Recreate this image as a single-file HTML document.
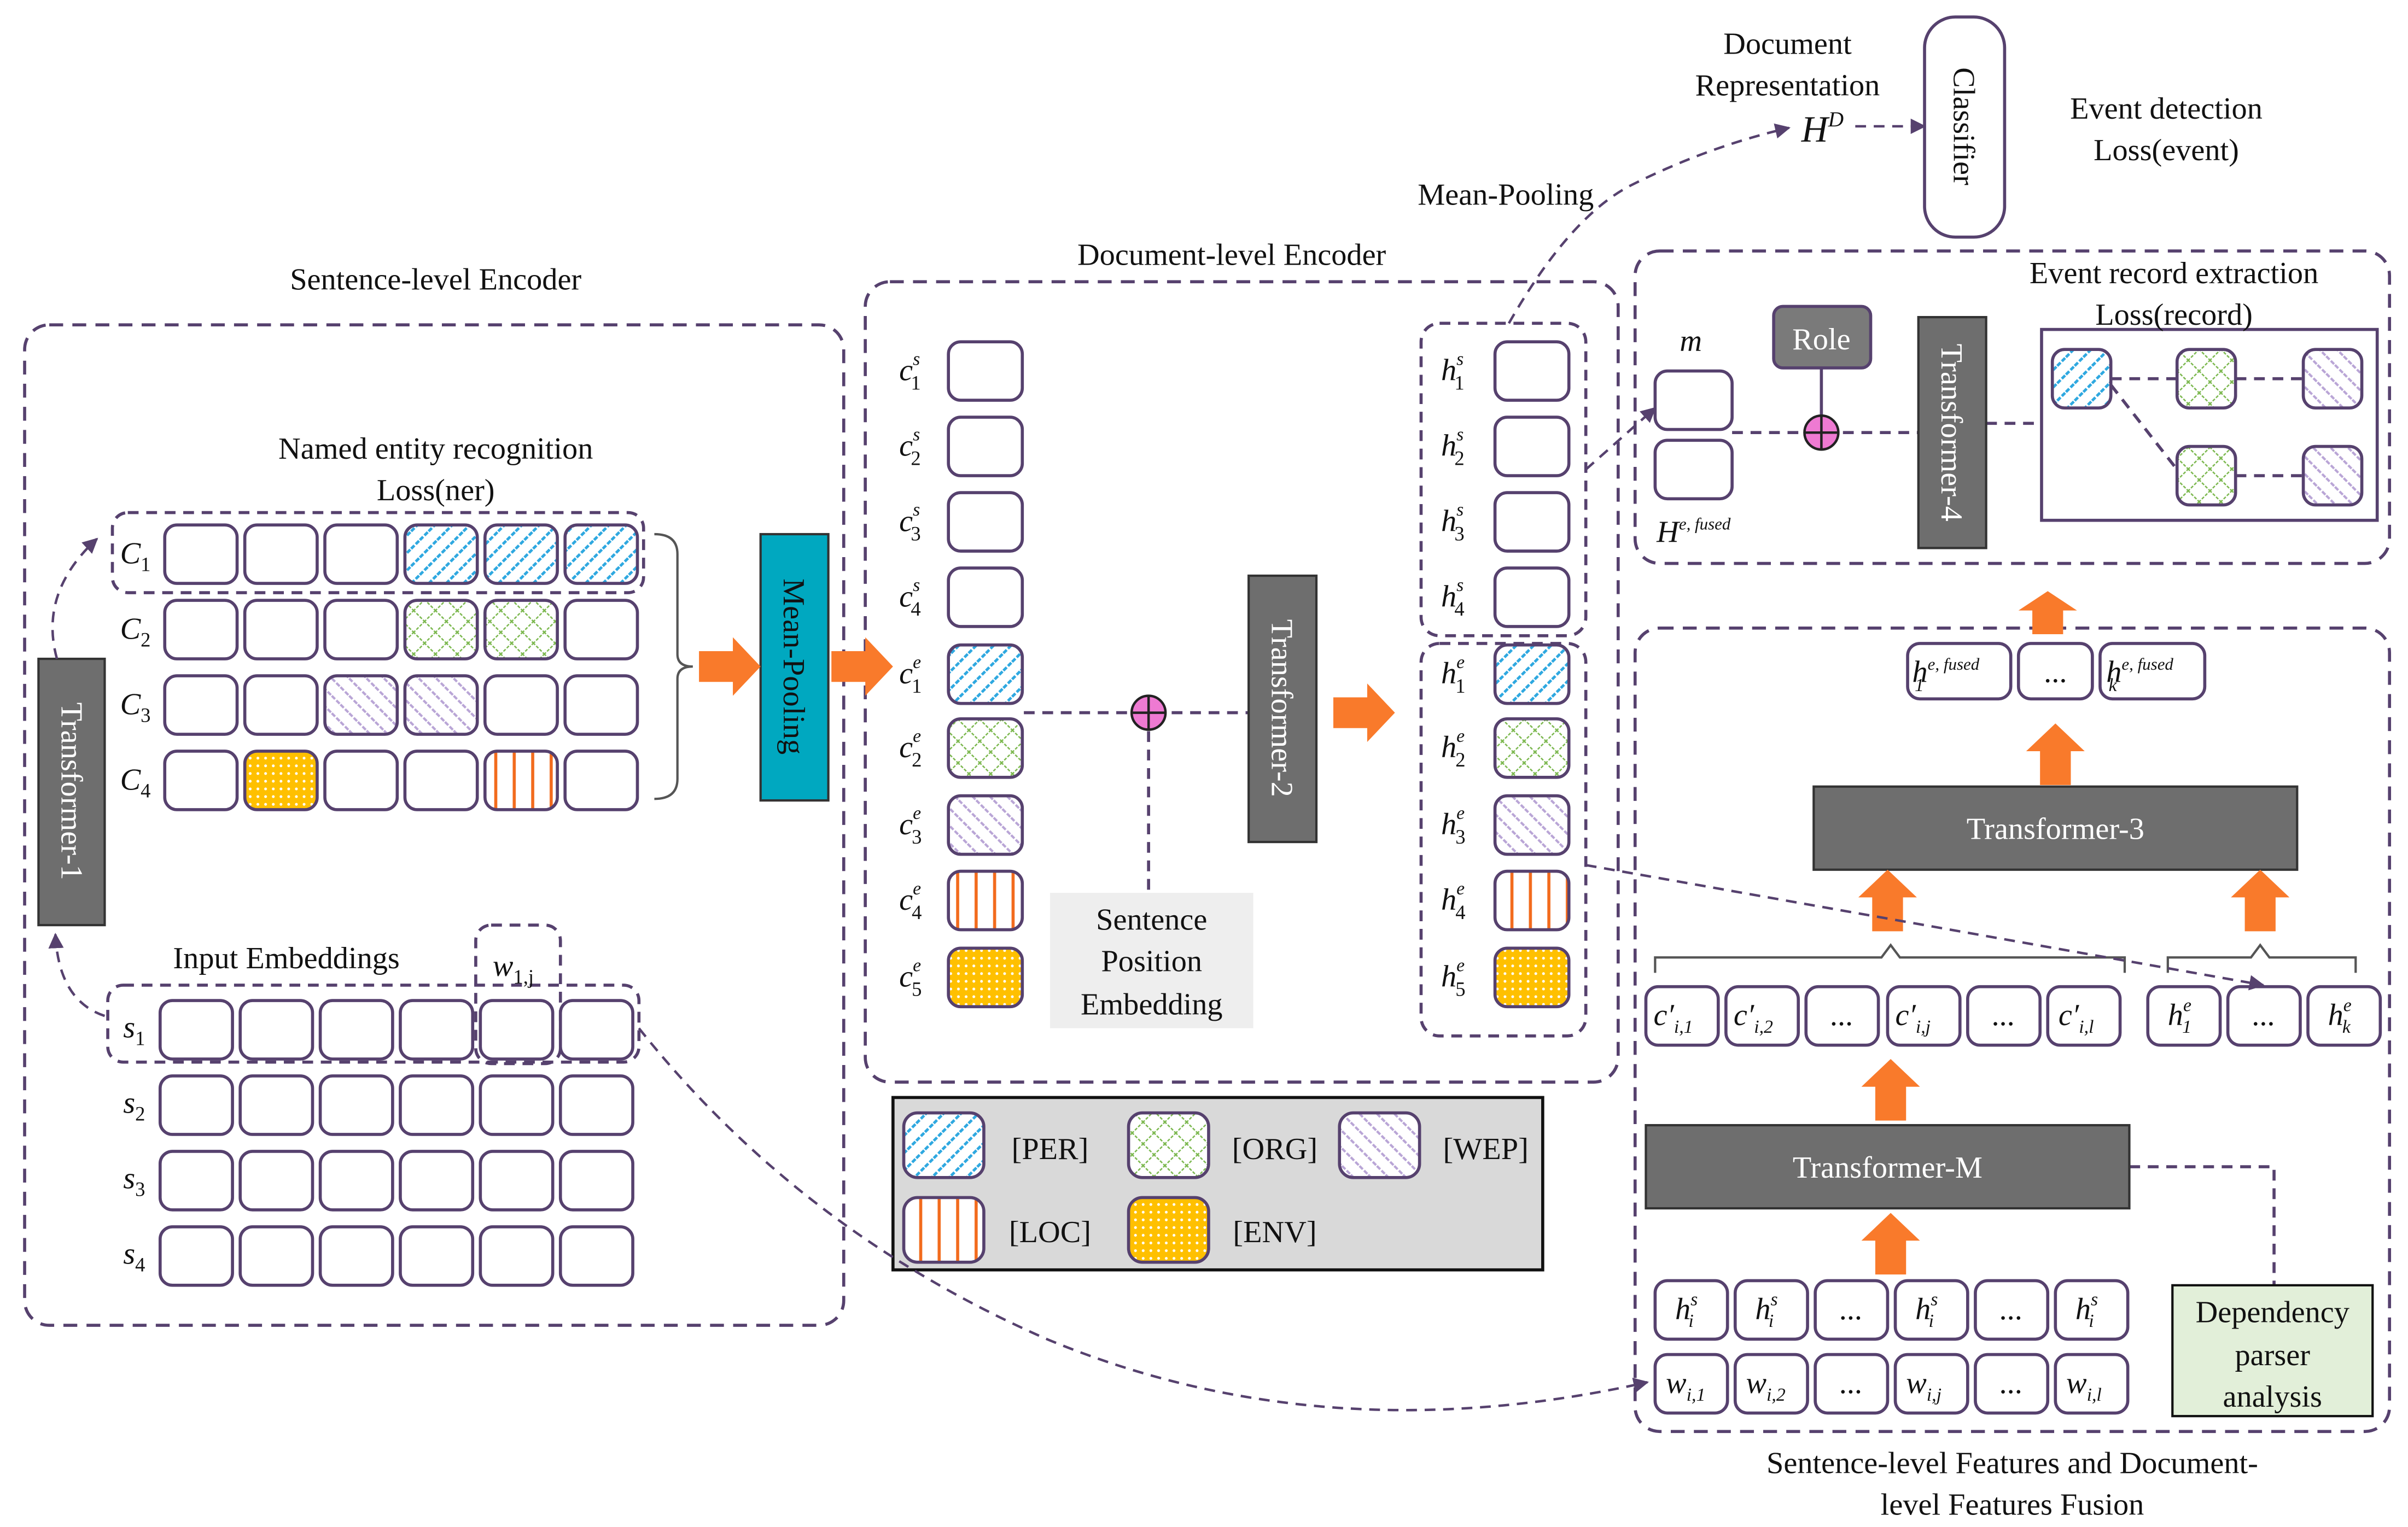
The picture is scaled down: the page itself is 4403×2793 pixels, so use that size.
<!DOCTYPE html>
<html><head><meta charset="utf-8"><style>
html,body{margin:0;padding:0;background:#fff;}
svg{display:block;}
text{font-family:"Liberation Serif",serif;fill:#111;}
.it{font-style:italic;}
</style></head><body>
<svg width="4403" height="2793" viewBox="0 0 1564 992" xmlns="http://www.w3.org/2000/svg">
<defs>
<pattern id="per" width="8" height="8" patternUnits="userSpaceOnUse" patternTransform="rotate(45)"><rect width="8" height="8" fill="#fff"/><line x1="0" y1="0" x2="0" y2="8" stroke="#2ea8e0" stroke-width="3.5" stroke-dasharray="3 1.2"/></pattern>
<pattern id="wep" width="8" height="8" patternUnits="userSpaceOnUse" patternTransform="rotate(-45)"><rect width="8" height="8" fill="#fff"/><line x1="0" y1="0" x2="0" y2="8" stroke="#b9a5d6" stroke-width="3" stroke-dasharray="3 1.2"/></pattern>
<pattern id="org" width="10" height="10" patternUnits="userSpaceOnUse" patternTransform="rotate(45)"><rect width="10" height="10" fill="#fff"/><line x1="0" y1="0" x2="0" y2="10" stroke="#7cb84f" stroke-width="1.8" stroke-dasharray="2 1"/><line x1="0" y1="0" x2="10" y2="0" stroke="#7cb84f" stroke-width="1.8" stroke-dasharray="2 1"/></pattern>
<pattern id="loc" width="12" height="12" patternUnits="userSpaceOnUse" x="4"><rect width="12" height="12" fill="#fff"/><line x1="6" y1="0" x2="6" y2="12" stroke="#f26b1d" stroke-width="2"/></pattern>
<pattern id="env" width="5" height="5" patternUnits="userSpaceOnUse"><rect width="5" height="5" fill="#ffc000"/><circle cx="2.5" cy="2.5" r="0.9" fill="#fff"/></pattern>
<path id="oa" d="M0,-10 L22,-10 L22,-19 L40,0 L22,19 L22,10 L0,10 Z" fill="#f97a2b"/>
<marker id="ah" markerWidth="10" markerHeight="10" refX="9" refY="5" orient="auto" markerUnits="userSpaceOnUse"><path d="M0,0 L10,5 L0,10 Z" fill="#56416e"/></marker>
</defs>
<g fill="none" stroke="#56416e" stroke-width="2">
<rect x="16" y="211" width="532" height="650" rx="16" stroke-dasharray="9 6"/>
<rect x="562" y="183" width="489" height="520" rx="16" stroke-dasharray="9 6"/>
<rect x="1062" y="163" width="490" height="203" rx="16" stroke-dasharray="9 6"/>
<rect x="1062" y="408" width="490" height="522" rx="16" stroke-dasharray="9 6"/>
<rect x="73" y="333" width="345" height="52" rx="10" stroke-dasharray="7 5"/>
<rect x="70" y="640" width="345" height="50" rx="10" stroke-dasharray="7 5"/>
<rect x="309" y="601" width="55" height="90" rx="10" stroke-dasharray="7 5"/>
<rect x="923" y="210" width="107" height="203" rx="12" stroke-dasharray="7 5"/>
<rect x="923" y="418" width="107" height="255" rx="12" stroke-dasharray="7 5"/>
</g>
<g stroke="#56416e" stroke-width="2">
<g fill="#fff">
<rect x="107" y="341" width="47" height="38" rx="8"/><rect x="159" y="341" width="47" height="38" rx="8"/><rect x="211" y="341" width="47" height="38" rx="8"/>
<rect x="263" y="341" width="47" height="38" rx="8" fill="url(#per)"/><rect x="315" y="341" width="47" height="38" rx="8" fill="url(#per)"/><rect x="367" y="341" width="47" height="38" rx="8" fill="url(#per)"/>
<rect x="107" y="390" width="47" height="38" rx="8"/><rect x="159" y="390" width="47" height="38" rx="8"/><rect x="211" y="390" width="47" height="38" rx="8"/>
<rect x="263" y="390" width="47" height="38" rx="8" fill="url(#org)"/><rect x="315" y="390" width="47" height="38" rx="8" fill="url(#org)"/><rect x="367" y="390" width="47" height="38" rx="8"/>
<rect x="107" y="439" width="47" height="38" rx="8"/><rect x="159" y="439" width="47" height="38" rx="8"/><rect x="211" y="439" width="47" height="38" rx="8" fill="url(#wep)"/>
<rect x="263" y="439" width="47" height="38" rx="8" fill="url(#wep)"/><rect x="315" y="439" width="47" height="38" rx="8"/><rect x="367" y="439" width="47" height="38" rx="8"/>
<rect x="107" y="488" width="47" height="38" rx="8"/><rect x="159" y="488" width="47" height="38" rx="8" fill="url(#env)"/><rect x="211" y="488" width="47" height="38" rx="8"/>
<rect x="263" y="488" width="47" height="38" rx="8"/><rect x="315" y="488" width="47" height="38" rx="8" fill="url(#loc)"/><rect x="367" y="488" width="47" height="38" rx="8"/>
<rect x="104" y="650" width="47" height="38" rx="8"/><rect x="156" y="650" width="47" height="38" rx="8"/><rect x="208" y="650" width="47" height="38" rx="8"/><rect x="260" y="650" width="47" height="38" rx="8"/><rect x="312" y="650" width="47" height="38" rx="8"/><rect x="364" y="650" width="47" height="38" rx="8"/>
<rect x="104" y="699" width="47" height="38" rx="8"/><rect x="156" y="699" width="47" height="38" rx="8"/><rect x="208" y="699" width="47" height="38" rx="8"/><rect x="260" y="699" width="47" height="38" rx="8"/><rect x="312" y="699" width="47" height="38" rx="8"/><rect x="364" y="699" width="47" height="38" rx="8"/>
<rect x="104" y="748" width="47" height="38" rx="8"/><rect x="156" y="748" width="47" height="38" rx="8"/><rect x="208" y="748" width="47" height="38" rx="8"/><rect x="260" y="748" width="47" height="38" rx="8"/><rect x="312" y="748" width="47" height="38" rx="8"/><rect x="364" y="748" width="47" height="38" rx="8"/>
<rect x="104" y="797" width="47" height="38" rx="8"/><rect x="156" y="797" width="47" height="38" rx="8"/><rect x="208" y="797" width="47" height="38" rx="8"/><rect x="260" y="797" width="47" height="38" rx="8"/><rect x="312" y="797" width="47" height="38" rx="8"/><rect x="364" y="797" width="47" height="38" rx="8"/>
<rect x="616" y="222" width="48" height="38" rx="8"/><rect x="616" y="271" width="48" height="38" rx="8"/><rect x="616" y="320" width="48" height="38" rx="8"/><rect x="616" y="369" width="48" height="38" rx="8"/>
<rect x="616" y="419" width="48" height="38" rx="8" fill="url(#per)"/><rect x="616" y="467" width="48" height="38" rx="8" fill="url(#org)"/><rect x="616" y="517" width="48" height="38" rx="8" fill="url(#wep)"/><rect x="616" y="566" width="48" height="38" rx="8" fill="url(#loc)"/><rect x="616" y="616" width="48" height="38" rx="8" fill="url(#env)"/>
<rect x="971" y="222" width="48" height="38" rx="8"/><rect x="971" y="271" width="48" height="38" rx="8"/><rect x="971" y="320" width="48" height="38" rx="8"/><rect x="971" y="369" width="48" height="38" rx="8"/>
<rect x="971" y="419" width="48" height="38" rx="8" fill="url(#per)"/><rect x="971" y="467" width="48" height="38" rx="8" fill="url(#org)"/><rect x="971" y="517" width="48" height="38" rx="8" fill="url(#wep)"/><rect x="971" y="566" width="48" height="38" rx="8" fill="url(#loc)"/><rect x="971" y="616" width="48" height="38" rx="8" fill="url(#env)"/>
<rect x="1075" y="241" width="50" height="38" rx="8"/><rect x="1075" y="286" width="50" height="38" rx="8"/>
<rect x="1239" y="418" width="67" height="36" rx="8"/><rect x="1311" y="418" width="48" height="36" rx="8"/><rect x="1364" y="418" width="68" height="36" rx="8"/>
<rect x="1069" y="641" width="47" height="38" rx="8"/><rect x="1121" y="641" width="47" height="38" rx="8"/><rect x="1173" y="641" width="47" height="38" rx="8"/><rect x="1226" y="641" width="47" height="38" rx="8"/><rect x="1278" y="641" width="47" height="38" rx="8"/><rect x="1330" y="641" width="47" height="38" rx="8"/>
<rect x="1395" y="641" width="47" height="38" rx="8"/><rect x="1447" y="641" width="47" height="38" rx="8"/><rect x="1499" y="641" width="47" height="38" rx="8"/>
<rect x="1075" y="832" width="47" height="38" rx="8"/><rect x="1127" y="832" width="47" height="38" rx="8"/><rect x="1179" y="832" width="47" height="38" rx="8"/><rect x="1231" y="832" width="47" height="38" rx="8"/><rect x="1283" y="832" width="47" height="38" rx="8"/><rect x="1335" y="832" width="47" height="38" rx="8"/>
<rect x="1075" y="880" width="47" height="38" rx="8"/><rect x="1127" y="880" width="47" height="38" rx="8"/><rect x="1179" y="880" width="47" height="38" rx="8"/><rect x="1231" y="880" width="47" height="38" rx="8"/><rect x="1283" y="880" width="47" height="38" rx="8"/><rect x="1335" y="880" width="47" height="38" rx="8"/>
</g>
<rect x="1326" y="214" width="218" height="124" fill="none"/>
<g stroke-dasharray="7 5" fill="none">
<line x1="1371" y1="246" x2="1414" y2="246"/><line x1="1452" y1="246" x2="1496" y2="246"/><line x1="1371" y1="250" x2="1414" y2="305"/><line x1="1452" y1="309" x2="1496" y2="309"/>
<line x1="1125" y1="281" x2="1246" y2="281"/><line x1="1290" y1="275" x2="1326" y2="275"/>
<line x1="665" y1="463" x2="811" y2="463"/><line x1="746" y1="475" x2="746" y2="580"/>
<polyline points="1383,758 1477,758 1477,835"/>
</g>
<g fill="#fff">
<rect x="1333" y="227" width="38" height="38" rx="8" fill="url(#per)"/><rect x="1414" y="227" width="38" height="38" rx="8" fill="url(#org)"/><rect x="1496" y="227" width="38" height="38" rx="8" fill="url(#wep)"/>
<rect x="1414" y="290" width="38" height="38" rx="8" fill="url(#org)"/><rect x="1496" y="290" width="38" height="38" rx="8" fill="url(#wep)"/>
</g>
<line x1="1183" y1="239" x2="1183" y2="270"/>
</g>
<g stroke="#222" stroke-width="1.6"><circle cx="746" cy="463" r="11" fill="#ee7ad2"/><line x1="735" y1="463" x2="757" y2="463"/><line x1="746" y1="452" x2="746" y2="474"/>
<circle cx="1183" cy="281" r="11" fill="#ee7ad2"/><line x1="1172" y1="281" x2="1194" y2="281"/><line x1="1183" y1="270" x2="1183" y2="292"/></g>
<g stroke="#333" stroke-width="1.5">
<rect x="25" y="428" width="43" height="173" fill="#6e6e6e"/>
<rect x="494" y="347" width="44" height="173" fill="#00a8c0"/>
<rect x="811" y="374" width="44" height="173" fill="#6e6e6e"/>
<rect x="1246" y="206" width="44" height="150" fill="#6e6e6e"/>
<rect x="1178" y="511" width="314" height="54" fill="#6e6e6e"/>
<rect x="1069" y="731" width="314" height="54" fill="#6e6e6e"/>
<rect x="1152" y="199" width="63" height="40" rx="6" fill="#7a7a7a" stroke="#56416e" stroke-width="2"/>
</g>
<rect x="682" y="580" width="132" height="88" fill="#eeeeee"/>
<rect x="1411" y="835" width="130" height="85" fill="#e2efd9" stroke="#111" stroke-width="1.5"/>
<rect x="1250" y="11" width="52" height="143" rx="20" fill="#fff" stroke="#56416e" stroke-width="2"/>
<rect x="580" y="713" width="422" height="112" fill="#d9d9d9" stroke="#111" stroke-width="2"/>
<g stroke="#56416e" stroke-width="2">
<rect x="587" y="723" width="52" height="42" rx="9" fill="url(#per)"/><rect x="733" y="723" width="52" height="42" rx="9" fill="url(#org)"/><rect x="870" y="723" width="52" height="42" rx="9" fill="url(#wep)"/>
<rect x="587" y="778" width="52" height="42" rx="9" fill="url(#loc)"/><rect x="733" y="778" width="52" height="42" rx="9" fill="url(#env)"/>
</g>
<g fill="none" stroke="#555" stroke-width="1.5">
<path d="M425,347 Q440,347 440,360 L440,425 Q440,433 450,433 Q440,433 440,441 L440,506 Q440,519 425,519"/>
<path d="M1075,632 L1075,622 L1222,622 L1228,614 L1234,622 L1380,622 L1380,632"/>
<path d="M1408,632 L1408,622 L1462,622 L1468,614 L1474,622 L1530,622 L1530,632"/>
</g>
<use href="#oa" transform="translate(454,433)"/>
<use href="#oa" transform="translate(540,433)"/>
<use href="#oa" transform="translate(866,463)"/>
<use href="#oa" transform="translate(1330,412) rotate(-90) scale(0.7,1)"/>
<use href="#oa" transform="translate(1335,510) rotate(-90)"/>
<use href="#oa" transform="translate(1226,605) rotate(-90)"/>
<use href="#oa" transform="translate(1468,605) rotate(-90)"/>
<use href="#oa" transform="translate(1228,728) rotate(-90)"/>
<use href="#oa" transform="translate(1228,828) rotate(-90)"/>
<g fill="none" stroke="#56416e" stroke-width="1.6" stroke-dasharray="7 5" marker-end="url(#ah)">
<path d="M37,428 Q25,385 63,350"/>
<path d="M68,660 Q38,650 36,607"/>
<path d="M980,210 Q1020,140 1060,120 Q1110,95 1162,83"/>
<path d="M1205,82 L1250,82"/>
<path d="M1030,305 L1075,265"/>
<path d="M415,668 Q520,800 680,870 Q860,945 1070,898"/>
<path d="M1030,562 L1470,640"/>
</g>
<g font-size="20" text-anchor="middle">
<text x="283" y="188">Sentence-level Encoder</text>
<text x="283" y="298">Named entity recognition</text>
<text x="283" y="325">Loss(ner)</text>
<text x="186" y="629">Input Embeddings</text>
<text x="800" y="172">Document-level Encoder</text>
<text x="748" y="604">Sentence</text><text x="748" y="631">Position</text><text x="748" y="659">Embedding</text>
<text x="978" y="133">Mean-Pooling</text>
<text x="1161" y="35">Document</text><text x="1161" y="62">Representation</text>
<text x="1407" y="77">Event detection</text><text x="1407" y="104">Loss(event)</text>
<text x="1412" y="184">Event record extraction</text><text x="1412" y="211">Loss(record)</text>
<text x="1183" y="227" style="fill:#fff">Role</text>
<text x="1335" y="545" style="fill:#fff">Transformer-3</text>
<text x="1226" y="765" style="fill:#fff">Transformer-M</text>
<text x="1476" y="859">Dependency</text><text x="1476" y="887">parser</text><text x="1476" y="914">analysis</text>
<text x="1307" y="957">Sentence-level Features and Document-</text>
<text x="1307" y="984">level Features Fusion</text>
<text x="682" y="753">[PER]</text>
<text x="828" y="753">[ORG]</text><text x="965" y="753">[WEP]</text>
<text x="682" y="807">[LOC]</text><text x="828" y="807">[ENV]</text>
<text x="1335" y="443">...</text><text x="1196" y="666">...</text><text x="1301" y="666">...</text><text x="1470" y="666">...</text>
<text x="1202" y="857">...</text><text x="1306" y="857">...</text><text x="1202" y="905">...</text><text x="1306" y="905">...</text>
</g>
<g font-size="20" text-anchor="middle">
<text transform="translate(40,514) rotate(90)" style="fill:#fff">Transformer-1</text>
<text transform="translate(509,433) rotate(90)" style="fill:#111">Mean-Pooling</text>
<text transform="translate(826,460) rotate(90)" style="fill:#fff">Transformer-2</text>
<text transform="translate(1261,281) rotate(90)" style="fill:#fff">Transformer-4</text>
<text transform="translate(1269,82) rotate(90)" style="fill:#111">Classifier</text>
</g>
<g font-size="20" class="it">
<text x="78" y="366" class="it">C<tspan font-size="13" dy="5" font-style="normal">1</tspan></text>
<text x="78" y="415" class="it">C<tspan font-size="13" dy="5" font-style="normal">2</tspan></text>
<text x="78" y="464" class="it">C<tspan font-size="13" dy="5" font-style="normal">3</tspan></text>
<text x="78" y="513" class="it">C<tspan font-size="13" dy="5" font-style="normal">4</tspan></text>
<text x="80" y="674" class="it">s<tspan font-size="13" dy="5" font-style="normal">1</tspan></text>
<text x="80" y="723" class="it">s<tspan font-size="13" dy="5" font-style="normal">2</tspan></text>
<text x="80" y="772" class="it">s<tspan font-size="13" dy="5" font-style="normal">3</tspan></text>
<text x="80" y="821" class="it">s<tspan font-size="13" dy="5" font-style="normal">4</tspan></text>
<text x="320" y="634" class="it">w<tspan font-size="13" dy="5" font-style="normal">1,j</tspan></text>
<text x="584" y="247" class="it">c<tspan font-size="12" dy="-10">s</tspan><tspan font-size="13" dx="-6" dy="16" font-style="normal">1</tspan></text>
<text x="584" y="296" class="it">c<tspan font-size="12" dy="-10">s</tspan><tspan font-size="13" dx="-6" dy="16" font-style="normal">2</tspan></text>
<text x="584" y="345" class="it">c<tspan font-size="12" dy="-10">s</tspan><tspan font-size="13" dx="-6" dy="16" font-style="normal">3</tspan></text>
<text x="584" y="394" class="it">c<tspan font-size="12" dy="-10">s</tspan><tspan font-size="13" dx="-6" dy="16" font-style="normal">4</tspan></text>
<text x="584" y="444" class="it">c<tspan font-size="12" dy="-10">e</tspan><tspan font-size="13" dx="-6" dy="16" font-style="normal">1</tspan></text>
<text x="584" y="492" class="it">c<tspan font-size="12" dy="-10">e</tspan><tspan font-size="13" dx="-6" dy="16" font-style="normal">2</tspan></text>
<text x="584" y="542" class="it">c<tspan font-size="12" dy="-10">e</tspan><tspan font-size="13" dx="-6" dy="16" font-style="normal">3</tspan></text>
<text x="584" y="591" class="it">c<tspan font-size="12" dy="-10">e</tspan><tspan font-size="13" dx="-6" dy="16" font-style="normal">4</tspan></text>
<text x="584" y="641" class="it">c<tspan font-size="12" dy="-10">e</tspan><tspan font-size="13" dx="-6" dy="16" font-style="normal">5</tspan></text>
<text x="936" y="247" class="it">h<tspan font-size="12" dy="-10">s</tspan><tspan font-size="13" dx="-6" dy="16" font-style="normal">1</tspan></text>
<text x="936" y="296" class="it">h<tspan font-size="12" dy="-10">s</tspan><tspan font-size="13" dx="-6" dy="16" font-style="normal">2</tspan></text>
<text x="936" y="345" class="it">h<tspan font-size="12" dy="-10">s</tspan><tspan font-size="13" dx="-6" dy="16" font-style="normal">3</tspan></text>
<text x="936" y="394" class="it">h<tspan font-size="12" dy="-10">s</tspan><tspan font-size="13" dx="-6" dy="16" font-style="normal">4</tspan></text>
<text x="936" y="444" class="it">h<tspan font-size="12" dy="-10">e</tspan><tspan font-size="13" dx="-6" dy="16" font-style="normal">1</tspan></text>
<text x="936" y="492" class="it">h<tspan font-size="12" dy="-10">e</tspan><tspan font-size="13" dx="-6" dy="16" font-style="normal">2</tspan></text>
<text x="936" y="542" class="it">h<tspan font-size="12" dy="-10">e</tspan><tspan font-size="13" dx="-6" dy="16" font-style="normal">3</tspan></text>
<text x="936" y="591" class="it">h<tspan font-size="12" dy="-10">e</tspan><tspan font-size="13" dx="-6" dy="16" font-style="normal">4</tspan></text>
<text x="936" y="641" class="it">h<tspan font-size="12" dy="-10">e</tspan><tspan font-size="13" dx="-6" dy="16" font-style="normal">5</tspan></text>
<text x="1170" y="92" font-size="24" class="it">H<tspan font-size="14" dy="-10">D</tspan></text>
<text x="1091" y="228" class="it">m</text>
<text x="1076" y="352" class="it">H<tspan font-size="11" dy="-8">e, fused</tspan></text>
<text x="1242" y="443" class="it">h<tspan font-size="11" dy="-8">e, fused</tspan><tspan font-size="12" dx="-42" dy="14">1</tspan></text>
<text x="1368" y="443" class="it">h<tspan font-size="11" dy="-8">e, fused</tspan><tspan font-size="12" dx="-42" dy="14">k</tspan></text>
<text x="1074" y="666" class="it">c′<tspan font-size="12" dy="5">i,1</tspan></text>
<text x="1126" y="666" class="it">c′<tspan font-size="12" dy="5">i,2</tspan></text>
<text x="1231" y="666" class="it">c′<tspan font-size="12" dy="5">i,j</tspan></text>
<text x="1337" y="666" class="it">c′<tspan font-size="12" dy="5">i,l</tspan></text>
<text x="1408" y="666" class="it">h<tspan font-size="12" dy="-9">e</tspan><tspan font-size="12" dx="-6" dy="14">1</tspan></text>
<text x="1512" y="666" class="it">h<tspan font-size="12" dy="-9">e</tspan><tspan font-size="12" dx="-6" dy="14">k</tspan></text>
<text x="1088" y="857" class="it">h<tspan font-size="12" dy="-9">s</tspan><tspan font-size="12" dx="-6" dy="14">i</tspan></text>
<text x="1140" y="857" class="it">h<tspan font-size="12" dy="-9">s</tspan><tspan font-size="12" dx="-6" dy="14">i</tspan></text>
<text x="1244" y="857" class="it">h<tspan font-size="12" dy="-9">s</tspan><tspan font-size="12" dx="-6" dy="14">i</tspan></text>
<text x="1348" y="857" class="it">h<tspan font-size="12" dy="-9">s</tspan><tspan font-size="12" dx="-6" dy="14">i</tspan></text>
<text x="1082" y="905" class="it">w<tspan font-size="12" dy="5">i,1</tspan></text>
<text x="1134" y="905" class="it">w<tspan font-size="12" dy="5">i,2</tspan></text>
<text x="1238" y="905" class="it">w<tspan font-size="12" dy="5">i,j</tspan></text>
<text x="1342" y="905" class="it">w<tspan font-size="12" dy="5">i,l</tspan></text>
</g>
</svg>
</body></html>
